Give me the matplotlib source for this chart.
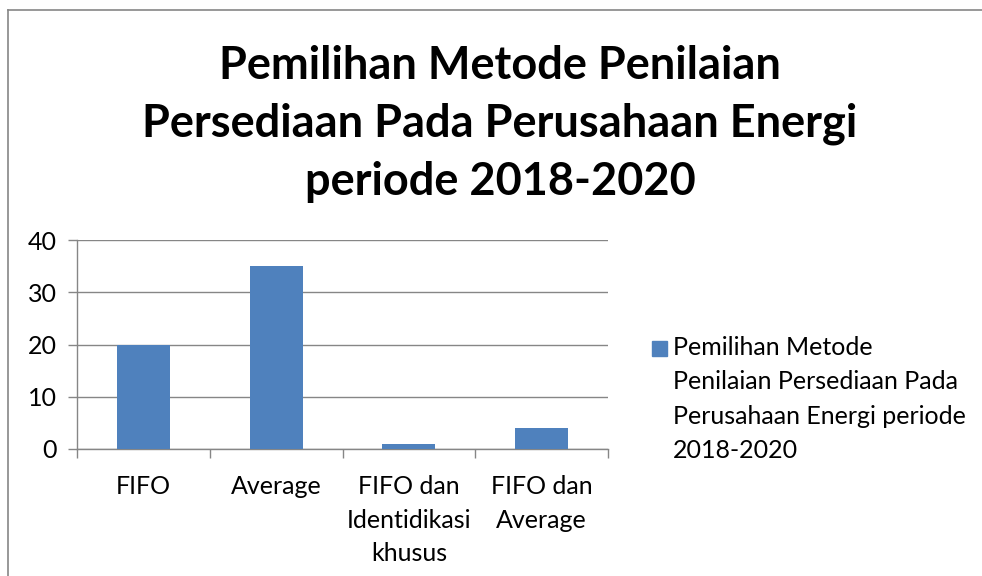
import matplotlib
matplotlib.use("Agg")
import matplotlib.pyplot as plt
import matplotlib.patches as mp
from matplotlib.lines import Line2D

plt.rcParams["font.family"] = ["Lato", "DejaVu Sans"]

# data
categories = ["FIFO", "Average", "FIFO dan\nIdentidikasi\nkhusus", "FIFO dan\nAverage"]
values = [20, 35, 1, 4]
yticks = [0, 10, 20, 30, 40]
series_name = "Pemilihan Metode\nPenilaian Persediaan Pada\nPerusahaan Energi periode\n2018-2020"
title = "Pemilihan Metode Penilaian\nPersediaan Pada Perusahaan Energi\nperiode 2018-2020"

BLUE = "#4F81BD"; GRID = "#868686"

fig = plt.figure(figsize=(9.82, 5.76), dpi=100)
W, H = 982, 576

# outer chart frame (left + top visible)
fig.add_artist(Line2D([8/W, 8/W], [0, 1 - 10/H], color=GRID, lw=1.2))
fig.add_artist(Line2D([8/W, 1], [1 - 10/H, 1 - 10/H], color=GRID, lw=1.2))

ax = fig.add_axes([77/W, 1 - 449/H, (608 - 77)/W, (449 - 240)/H])
x = list(range(len(categories)))
ax.bar(x, values, width=0.4, color=BLUE, zorder=3)
ax.set_xlim(-0.5, len(categories) - 0.5)
ax.set_ylim(0, 40)
ax.set_yticks(yticks)
ax.yaxis.grid(True, color=GRID, lw=1)
ax.set_axisbelow(True)

# boundary ticks, labels at centres
ax.set_xticks([i - 0.5 for i in range(len(categories) + 1)])
ax.set_xticklabels([])
ax.set_xticks(x, minor=True)
ax.set_xticklabels(categories, minor=True, fontsize=18, linespacing=1.55)
ax.tick_params(axis="x", which="minor", length=0, pad=19)
ax.tick_params(axis="x", which="major", length=6.5, color=GRID, width=1)
ax.tick_params(axis="y", length=6.5, color=GRID, width=1, labelsize=18, pad=8)
for s in ["top", "right"]:
    ax.spines[s].set_visible(False)
for s in ["left", "bottom"]:
    ax.spines[s].set_color(GRID)
    ax.spines[s].set_linewidth(1)

fig.text(500/W, 1 - 124/H, title, ha="center", va="center",
         fontsize=32.5, fontweight="bold", linespacing=1.45)

# legend
fig.add_artist(mp.Rectangle((652/W, 1 - 356/H), 15/W, 15/H, color=BLUE))
fig.text(673/W, 1 - 336/H, series_name, ha="left", va="top",
         fontsize=18, linespacing=1.6)

fig.savefig("out.png", dpi=100, facecolor="white")
